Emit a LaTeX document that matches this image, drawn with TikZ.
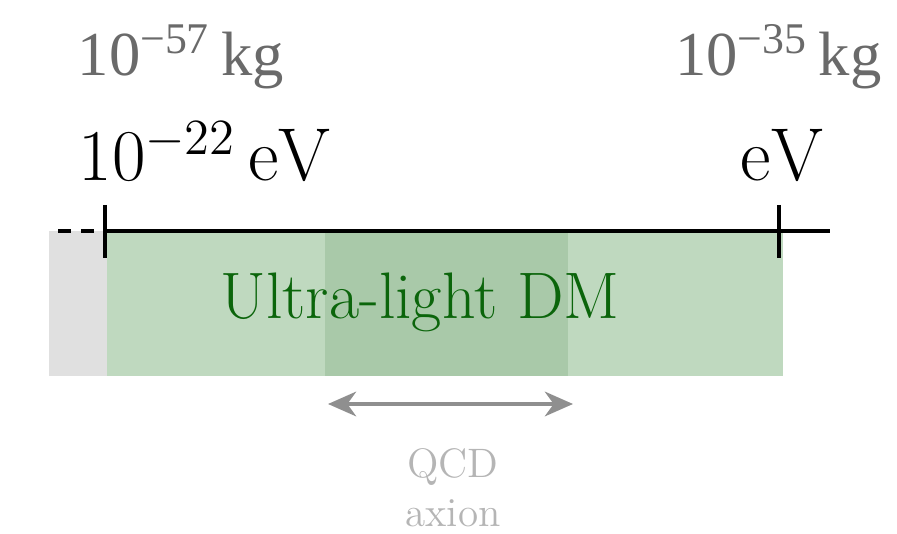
\documentclass[tikz,border=0pt]{standalone}
\usepackage{fontspec}
\usepackage{tikz}
\usetikzlibrary{calc,arrows.meta}
\newfontfamily\kgfont{Liberation Serif}
\definecolor{ulgreen}{HTML}{BFD9BF}
\definecolor{qcdgreen}{HTML}{A9C9A9}
\definecolor{ultext}{HTML}{0B650B}
\definecolor{lowgray}{HTML}{E0E0E0}
\definecolor{kggray}{HTML}{6A6A6A}
\definecolor{arrowgray}{HTML}{8F8F8F}
\definecolor{qcdgray}{HTML}{B5B5B5}

\begin{document}
\begin{tikzpicture}[x=0.01cm,y=-0.01cm,
    evlabel/.style={anchor=base, inner sep=0pt, font=\fontsize{21.3}{25}\selectfont},
    kglabel/.style={anchor=base, inner sep=0pt, text=kggray, font=\kgfont\fontsize{17.8}{21}\selectfont}]
        % pixel coordinates, y downwards
        \useasboundingbox (0,0) rectangle (897,534);

        \coordinate (S) at (58,231);  % start of the dashed part
        \coordinate (L) at (105,231); % 10^-22 eV
        \coordinate (R) at (779,231); % eV
        \coordinate (E) at (830,231); % end of the axis

        % bands
        \fill[lowgray] (49,231) rectangle (107,376);
        \fill[ulgreen] (107,231) rectangle (783,376);
        \fill[qcdgreen] (325,231) rectangle (568,376);

        % axis with ticks
        \draw[line width=1.1pt, dash pattern=on 3.7pt off 2.8pt] (S) -- (L);
        \draw[line width=1.1pt] (L) -- (E);
        \draw[line width=1.1pt] ($(L)+(0,-26)$) -- ($(L)+(0,27)$);
        \draw[line width=1.1pt] ($(R)+(0,-26)$) -- ($(R)+(0,27)$);

        \node[evlabel, anchor=base west] (evl) at (78,181) {$10^{-22}\,\mathrm{eV}$};
        \node[evlabel, anchor=base east] (evr) at (824,181) {$\mathrm{eV}$};
        \node[kglabel, anchor=base west] (kgl) at (77,76) {10\textsuperscript{−57}\,kg};
        \node[kglabel, anchor=base east] (kgr) at (882,76) {10\textsuperscript{−35}\,kg};

        \node[anchor=base, inner sep=0pt, text=ultext, font=\fontsize{18.7}{22}\selectfont] (uldm) at (420,319) {Ultra-light DM};

        % QCD axion range
        \coordinate (qa) at (328,404);
        \coordinate (qb) at (573,404);
        \draw[arrowgray, line width=1.1pt, {Stealth[length=8pt,width=7pt,inset=2.5pt]}-{Stealth[length=8pt,width=7pt,inset=2.5pt]}] (qa) -- (qb);
        \node[anchor=base, inner sep=0pt, text=qcdgray, align=center, font=\fontsize{11.7}{14.2}\selectfont] (qcd) at (453,527) {QCD\\axion};
    \end{tikzpicture}
\end{document}
